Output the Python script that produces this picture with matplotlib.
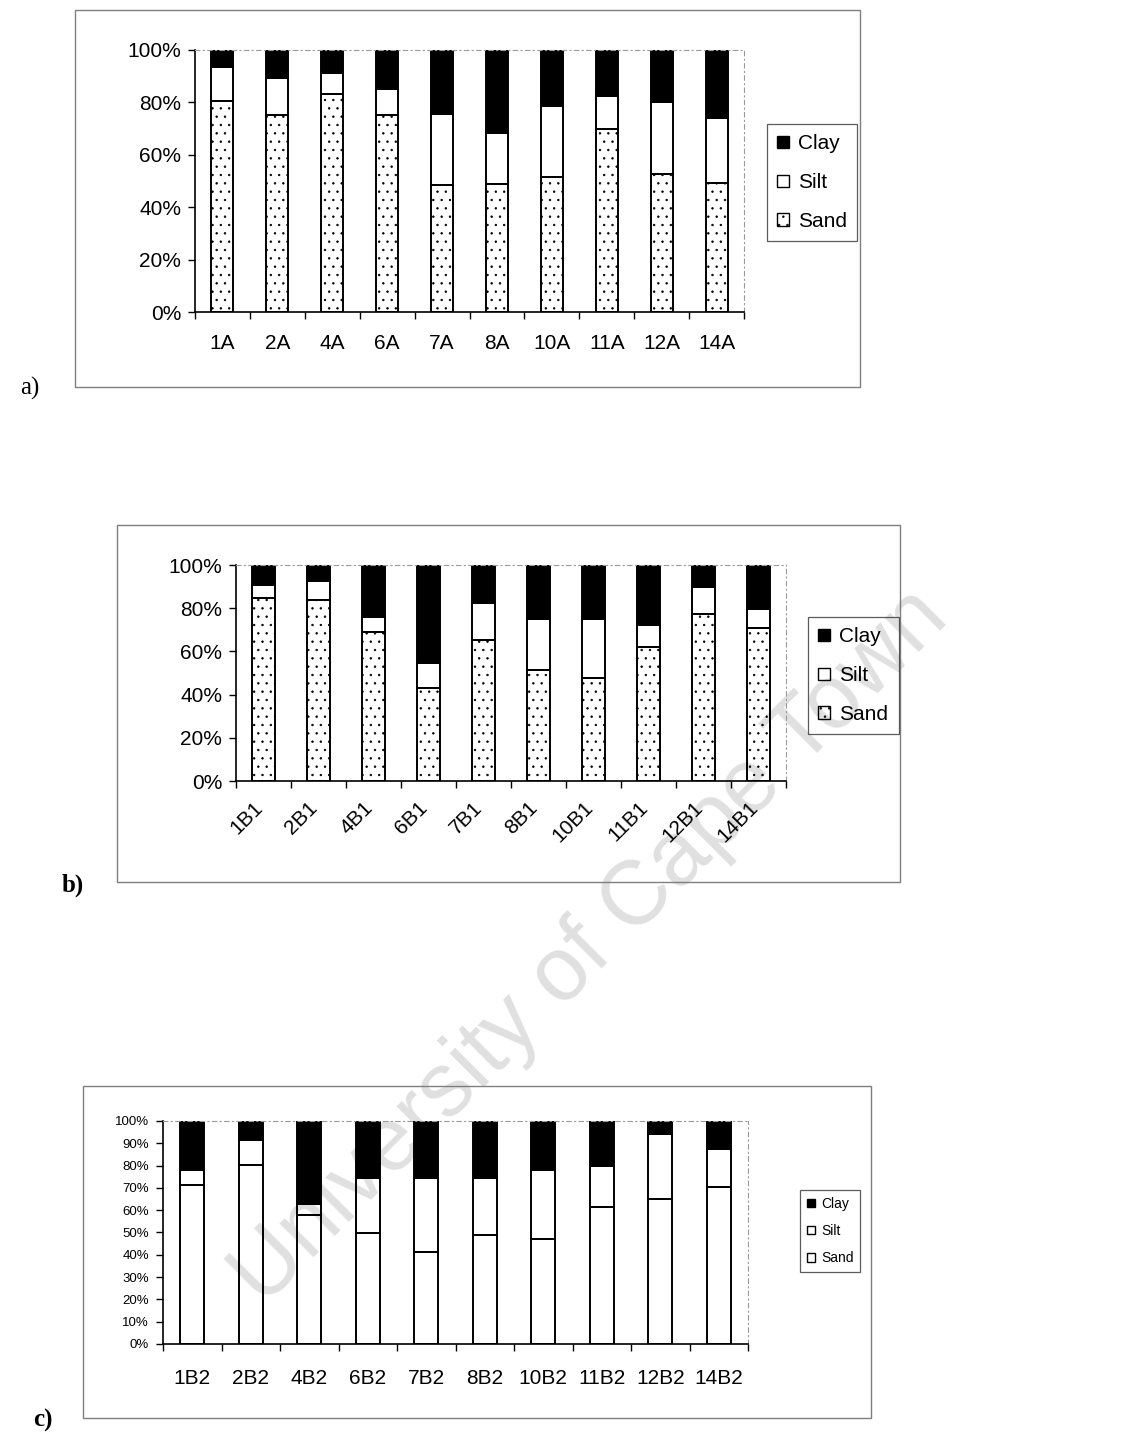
import numpy as np
import matplotlib.pyplot as plt
from matplotlib.patches import Rectangle, Patch

plt.rcParams['font.family'] = ['Liberation Sans', 'DejaVu Sans']
plt.rcParams['hatch.linewidth'] = 0.5

# A horizon
sites_a = ['1A', '2A', '4A', '6A', '7A', '8A', '10A', '11A', '12A', '14A']
sand_a = [80.6, 75.2, 83.2, 75.3, 48.4, 49.0, 51.6, 69.8, 52.6, 49.2]
silt_a = [12.8, 14.2, 8.0, 9.7, 27.1, 19.5, 27.0, 12.7, 27.7, 24.7]
clay_a = [6.6, 10.6, 8.8, 15.0, 24.5, 31.5, 21.4, 17.5, 19.7, 26.1]

# B1 horizon
sites_b1 = ['1B1', '2B1', '4B1', '6B1', '7B1', '8B1', '10B1', '11B1', '12B1', '14B1']
sand_b1 = [84.9, 84.0, 69.0, 43.1, 65.3, 51.2, 47.7, 62.0, 77.3, 71.0]
silt_b1 = [6.0, 8.7, 7.1, 11.4, 17.3, 24.0, 27.3, 10.1, 12.5, 8.5]
clay_b1 = [9.1, 7.3, 23.9, 45.5, 17.4, 24.8, 25.0, 27.9, 10.2, 20.5]

# B2 horizon
sites_b2 = ['1B2', '2B2', '4B2', '6B2', '7B2', '8B2', '10B2', '11B2', '12B2', '14B2']
sand_b2 = [71.2, 80.4, 57.9, 49.7, 41.3, 48.8, 47.2, 61.5, 64.9, 70.3]
silt_b2 = [7.0, 11.1, 4.8, 24.9, 33.2, 25.5, 30.9, 18.4, 29.3, 16.9]
clay_b2 = [21.8, 8.5, 37.3, 25.4, 25.5, 25.7, 21.9, 20.1, 5.8, 12.8]

fig = plt.figure(figsize=(11.26, 14.36), dpi=100)


def panel(rect, sites, sand, silt, clay, ystep, tick_fs, xpad, legend_xy, leg_fs,
          leg_sp, sand_hatch='..', rotate=False, w=0.41):
    ax = fig.add_axes(rect)
    ax.patch.set_facecolor('none')
    x = np.arange(len(sites))
    sand = np.array(sand)
    silt = np.array(silt)
    clay = np.array(clay)
    ax.bar(x, sand, w, color='none', edgecolor='black', lw=1.4, hatch=sand_hatch)
    ax.bar(x, silt, w, bottom=sand, color='none', edgecolor='black', lw=1.4)
    ax.bar(x, clay, w, bottom=sand + silt, color='black', edgecolor='black', lw=1.4)
    ax.set_xlim(-0.5, len(sites) - 0.5)
    ax.set_ylim(0, 100)
    ax.set_yticks(np.arange(0, 101, ystep))
    ax.set_yticklabels(['%d%%' % v for v in np.arange(0, 101, ystep)], fontsize=tick_fs)
    ax.set_xticks(x)
    if rotate:
        ax.set_xticklabels(sites, fontsize=15, rotation=45, ha='right',
                           va='baseline', rotation_mode='anchor')
    else:
        ax.set_xticklabels(sites, fontsize=15)
    ax.set_xticks(np.arange(-0.5, len(sites)), minor=True)
    ax.tick_params(axis='x', which='major', length=0, pad=xpad)
    ax.tick_params(axis='x', which='minor', length=5, width=1, direction='out')
    ax.tick_params(axis='y', length=5, width=1, direction='out', pad=5)
    for s in ['top', 'right']:
        ax.spines[s].set_linestyle((0, (4, 3, 1, 3)))
        ax.spines[s].set_color('#9a9a9a')
        ax.spines[s].set_linewidth(0.8)
    ax.spines['left'].set_linewidth(1.2)
    ax.spines['bottom'].set_linewidth(1.2)

    handles = [Patch(facecolor='black', edgecolor='black', label='Clay'),
               Patch(facecolor='none', edgecolor='black', label='Silt'),
               Patch(facecolor='none', edgecolor='black', hatch=sand_hatch,
                     label='Sand')]
    leg = fig.legend(handles=handles, loc='upper left', bbox_to_anchor=legend_xy,
                     bbox_transform=fig.transFigure, fontsize=leg_fs, frameon=True,
                     fancybox=False, handlelength=0.55, handleheight=0.55,
                     handletextpad=0.45, labelspacing=leg_sp, borderpad=0.5,
                     borderaxespad=0)
    leg.get_frame().set_edgecolor('#333333')
    leg.get_frame().set_facecolor('none')
    leg.get_frame().set_linewidth(0.9)
    return ax


panel([0.1732, 0.7827, 0.4876, 0.1825], sites_a, sand_a, silt_a, clay_a,
      20, 15, 16, (0.681, 0.9136), 15, 0.95, w=0.40)
panel([0.2096, 0.4561, 0.4885, 0.1504], sites_b1, sand_b1, silt_b1, clay_b1,
      20, 15, 20, (0.7176, 0.5703), 15, 0.95, rotate=True, w=0.42)
panel([0.1448, 0.0641, 0.5195, 0.1553], sites_b2, sand_b2, silt_b2, clay_b2,
      10, 9.5, 18, (0.7105, 0.1713), 10, 0.95, sand_hatch=None, w=0.41)

# chart area frames
for (x0, y0, w, h) in [(0.0666, 0.7305, 0.6972, 0.2625),
                       (0.1039, 0.3858, 0.6954, 0.2486),
                       (0.0737, 0.0125, 0.6998, 0.2312)]:
    fig.patches.append(Rectangle((x0, y0), w, h, transform=fig.transFigure,
                                 fill=False, edgecolor='#7f7f7f', lw=1.0))

fig.text(0.0178, 0.7298, 'a)', fontsize=18, family='Liberation Serif', va='center')
fig.text(0.055, 0.3837, 'b)', fontsize=18, family='Liberation Serif',
         fontweight='bold', va='center')
fig.text(0.029, 0.011, 'c)', fontsize=18, family='Liberation Serif',
         fontweight='bold', va='center')

# light watermark sitting under the plots
fig.text(0.524, 0.340, 'University of Cape Town', fontsize=65, color='#e0e0e0',
         rotation=45, ha='center', va='center', zorder=-1)

fig.savefig('out.png', dpi=100)
